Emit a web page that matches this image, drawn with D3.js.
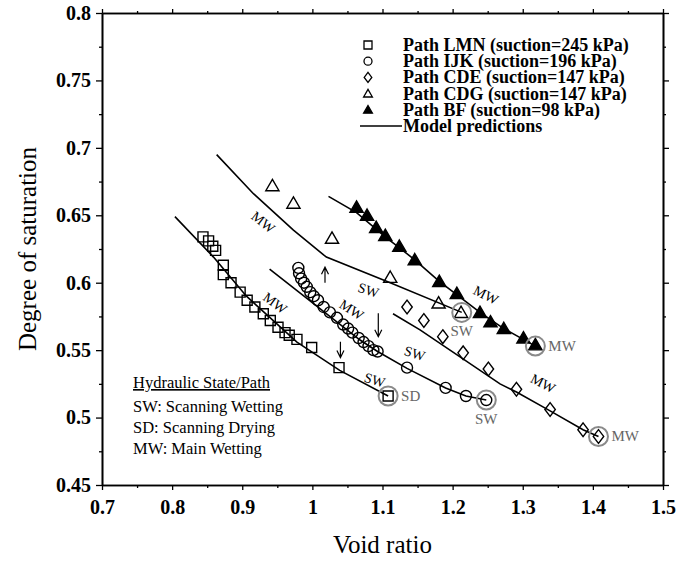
<!DOCTYPE html>
<html>
<head>
<meta charset="utf-8">
<script src="https://cdn.jsdelivr.net/npm/d3@7"></script>
<style>
  body { margin: 0; background: #fff; }
  text { font-family: "Liberation Serif", "Times New Roman", serif; }
</style>
</head>
<body>
<svg id="chart" width="694" height="564"></svg>
<script>
// Data (void ratio, degree of saturation)
var pathLMN = [[0.844,0.634],[0.852,0.631],[0.858,0.627],[0.862,0.624],[0.873,0.613],[0.873,0.606],
  [0.884,0.600],[0.897,0.593],[0.907,0.587],[0.918,0.582],[0.930,0.577],[0.940,0.572],[0.951,0.567],
  [0.961,0.563],[0.967,0.561],[0.978,0.558],[0.999,0.552],[1.038,0.537],[1.108,0.516]];
var pathIJK = [[0.980,0.611],[0.981,0.607],[0.984,0.603],[0.988,0.600],[0.992,0.597],[0.997,0.593],
  [1.002,0.590],[1.008,0.587],[1.016,0.582],[1.025,0.578],[1.035,0.574],[1.044,0.569],[1.051,0.566],
  [1.057,0.563],[1.066,0.559],[1.073,0.556],[1.080,0.553],[1.087,0.550],[1.093,0.549],
  [1.135,0.537],[1.190,0.522],[1.219,0.516],[1.248,0.513]];
var pathCDE = [[1.135,0.582],[1.159,0.572],[1.186,0.560],[1.215,0.548],[1.251,0.536],[1.291,0.521],
  [1.339,0.506],[1.386,0.491],[1.408,0.486]];
var pathCDG = [[0.943,0.672],[0.973,0.659],[1.028,0.633],[1.111,0.604],[1.180,0.585],[1.212,0.578]];
var pathBF = [[1.063,0.656],[1.078,0.650],[1.091,0.641],[1.104,0.635],[1.124,0.627],[1.146,0.617],
  [1.181,0.601],[1.206,0.592],[1.239,0.578],[1.254,0.571],[1.273,0.566],[1.301,0.559],[1.318,0.554]];

// Model prediction curves
var modelLMN = [[0.804,0.649],[0.859,0.619],[0.906,0.590],[0.978,0.556],[1.039,0.535],[1.108,0.516]];
var modelIJK = [[0.939,0.610],[1.068,0.5575],[1.093,0.549],[1.135,0.5365],[1.190,0.522],[1.219,0.516],[1.248,0.513]];
var modelCDG = [[0.8635,0.695],[0.916,0.666],[0.973,0.639],[1.016,0.6206],[1.020,0.619],[1.111,0.600],[1.213,0.578]];
var modelBF = [[1.023,0.664],[1.063,0.652],[1.104,0.634],[1.146,0.617],[1.181,0.601],[1.239,0.578],[1.273,0.566],[1.318,0.553]];
var modelCDE = [[1.115,0.577],[1.1535,0.565],[1.2676,0.525],[1.291,0.519],[1.339,0.505],[1.386,0.491],[1.408,0.486]];

var xTicks = [0.7,0.8,0.9,1.0,1.1,1.2,1.3,1.4,1.5];
var yTicks = [0.45,0.5,0.55,0.6,0.65,0.7,0.75,0.8];

var legendLabels = ["Path LMN (suction=245 kPa)","Path IJK (suction=196 kPa)","Path CDE (suction=147 kPa)",
  "Path CDG (suction=147 kPa)","Path BF (suction=98 kPa)","Model predictions"];
var legendShapes = ["square","circle","diamond","triangle","filled","line"];

// grey rings at the end states
var rings = [[1.108,0.516],[1.248,0.513],[1.213,0.578],[1.318,0.553],[1.408,0.486]];
var ringLabels = [["SD",1.108,0.516,"right"],["SW",1.248,0.513,"below"],["SW",1.213,0.578,"below"],
  ["MW",1.318,0.553,"right"],["MW",1.408,0.486,"right"]];
// labels along curves: text, x, y, angle
var curveLabels = [["MW",0.930,0.645,38],["MW",0.947,0.585,36],["MW",1.056,0.580,33],
  ["SW",1.080,0.5946,17],["MW",1.2476,0.591,27],["SW",1.146,0.5477,17],["SW",1.089,0.528,17],["MW",1.329,0.5254,27]];
// arrows: x, yFrom, yTo
var arrows = [[1.018,0.600,0.6115],[1.094,0.5773,0.560],[1.040,0.5563,0.5445]];

var hydroLines = ["SW: Scanning Wetting","SD: Scanning Drying","MW: Main Wetting"];

var svg = d3.select("#chart");
var margin = {left: 102, right: 663, top: 13, bottom: 485};

var x = d3.scaleLinear().domain([0.7,1.5]).range([margin.left,margin.right]);
var y = d3.scaleLinear().domain([0.45,0.8]).range([margin.bottom,margin.top]);

function fmt(d){ return String(+d.toFixed(2)); }

// minor ticks
var xMinor = d3.range(0.75,1.5,0.1);
var yMinor = d3.range(0.475,0.8,0.05);

var axes = svg.append("g").attr("class","axes");
axes.append("g").attr("transform","translate(0,"+margin.bottom+")")
  .call(d3.axisBottom(x).tickValues(xTicks).tickFormat(fmt).tickSizeInner(5).tickSizeOuter(0).tickPadding(10));
axes.append("g").attr("transform","translate(0,"+margin.bottom+")")
  .call(d3.axisBottom(x).tickValues(xMinor).tickFormat("").tickSizeInner(3).tickSizeOuter(0));
axes.append("g").attr("transform","translate(0,"+margin.top+")")
  .call(d3.axisTop(x).tickValues(xTicks).tickFormat("").tickSizeInner(4).tickSizeOuter(0));
axes.append("g").attr("transform","translate(0,"+margin.top+")")
  .call(d3.axisTop(x).tickValues(xMinor).tickFormat("").tickSizeInner(2).tickSizeOuter(0));
axes.append("g").attr("transform","translate("+margin.left+",0)")
  .call(d3.axisLeft(y).tickValues(yTicks).tickFormat(fmt).tickSizeInner(6).tickSizeOuter(0).tickPadding(5));
axes.append("g").attr("transform","translate("+margin.left+",0)")
  .call(d3.axisLeft(y).tickValues(yMinor).tickFormat("").tickSizeInner(3).tickSizeOuter(0));
axes.append("g").attr("transform","translate("+margin.right+",0)")
  .call(d3.axisRight(y).tickValues(yTicks).tickFormat("").tickSizeInner(6).tickSizeOuter(0));
axes.append("g").attr("transform","translate("+margin.right+",0)")
  .call(d3.axisRight(y).tickValues(yMinor).tickFormat("").tickSizeInner(3).tickSizeOuter(0));

axes.selectAll("path.domain").attr("stroke","#000").attr("stroke-width",1.6);
axes.selectAll(".tick line").attr("stroke","#000").attr("stroke-width",1.3);
axes.selectAll(".tick text")
  .style("font-family","'Liberation Serif', serif")
  .style("font-size","20px").style("font-weight","bold").attr("fill","#000");

// axis titles
svg.append("text").attr("x",(margin.left+margin.right)/2).attr("y",553)
  .attr("text-anchor","middle").style("font-size","25px").text("Void ratio");
svg.append("text").attr("transform","translate(36,"+((margin.top+margin.bottom)/2)+") rotate(-90)")
  .attr("text-anchor","middle").style("font-size","25px").text("Degree of saturation");

// model curves
var line = d3.line().x(function(d){ return x(d[0]); }).y(function(d){ return y(d[1]); });
[modelLMN, modelIJK, modelCDG, modelBF, modelCDE].forEach(function(m){
  svg.append("path").datum(m).attr("d",line)
    .attr("fill","none").attr("stroke","#000").attr("stroke-width",1.6);
});

// marker shapes
function shapePath(kind, s){
  var h = s/2;
  if (kind == "square") return "M"+(-h)+","+(-h)+"h"+s+"v"+s+"h"+(-s)+"Z";
  if (kind == "diamond") return "M0,"+(-h*1.25)+"L"+(h*0.95)+",0L0,"+(h*1.25)+"L"+(-h*0.95)+",0Z";
  if (kind == "triangle" || kind == "filled") return "M0,"+(-h*1.05)+"L"+(h*1.1)+","+(h*0.85)+"L"+(-h*1.1)+","+(h*0.85)+"Z";
  return "";
}
function drawMarkers(data, kind, size){
  var g = svg.append("g");
  if (kind == "circle"){
    g.selectAll("circle").data(data).enter().append("circle")
      .attr("cx",function(d){ return x(d[0]); }).attr("cy",function(d){ return y(d[1]); })
      .attr("r",size/2).attr("fill","none").attr("stroke","#000").attr("stroke-width",1.4);
  } else {
    g.selectAll("path").data(data).enter().append("path")
      .attr("transform",function(d){ return "translate("+x(d[0])+","+y(d[1])+")"; })
      .attr("d",shapePath(kind,size))
      .attr("fill",kind == "filled" ? "#000" : "none")
      .attr("stroke","#000").attr("stroke-width",1.4).attr("stroke-linejoin","miter");
  }
}
drawMarkers(pathLMN,"square",10);
drawMarkers(pathIJK,"circle",11);
drawMarkers(pathCDE,"diamond",11);
drawMarkers(pathCDG,"triangle",12);
drawMarkers(pathBF,"filled",12);

// grey rings and their labels
svg.append("g").selectAll("circle").data(rings).enter().append("circle")
  .attr("cx",function(d){ return x(d[0]); }).attr("cy",function(d){ return y(d[1]); })
  .attr("r",9.5).attr("fill","none").attr("stroke","#8a8a8a").attr("stroke-width",2);
svg.append("g").selectAll("text").data(ringLabels).enter().append("text")
  .attr("x",function(d){ return d[3] == "right" ? x(d[1]) + 13 : x(d[1]); })
  .attr("y",function(d){ return d[3] == "right" ? y(d[2]) + 5 : y(d[2]) + 24; })
  .attr("text-anchor",function(d){ return d[3] == "right" ? "start" : "middle"; })
  .style("font-size","15px").attr("fill","#666").text(function(d){ return d[0]; });

// labels along the curves
svg.append("g").selectAll("text").data(curveLabels).enter().append("text")
  .attr("transform",function(d){ return "translate("+x(d[1])+","+y(d[2])+") rotate("+d[3]+")"; })
  .attr("text-anchor","middle").attr("dy","0.35em")
  .style("font-size","14px").attr("fill","#000").text(function(d){ return d[0]; });

// arrows
arrows.forEach(function(a){
  var ax = x(a[0]), y0 = y(a[1]), y1 = y(a[2]);
  var dir = y1 > y0 ? 1 : -1;
  svg.append("path")
    .attr("d","M"+ax+","+y0+"L"+ax+","+y1+"M"+(ax-3.5)+","+(y1-dir*7)+"L"+ax+","+y1+"L"+(ax+3.5)+","+(y1-dir*7))
    .attr("fill","none").attr("stroke","#000").attr("stroke-width",1.2);
});

// legend
var legend = svg.append("g").attr("transform","translate(368,45)");
legendLabels.forEach(function(lab, i){
  var ly = i*16.2;
  var kind = legendShapes[i];
  if (kind == "line"){
    legend.append("line").attr("x1",-8).attr("x2",34).attr("y1",ly).attr("y2",ly)
      .attr("stroke","#000").attr("stroke-width",1.6);
  } else if (kind == "circle"){
    legend.append("circle").attr("cx",0).attr("cy",ly).attr("r",4)
      .attr("fill","none").attr("stroke","#000").attr("stroke-width",1.3);
  } else {
    legend.append("path").attr("transform","translate(0,"+ly+")").attr("d",shapePath(kind,8))
      .attr("fill",kind == "filled" ? "#000" : "none").attr("stroke","#000").attr("stroke-width",1.3);
  }
  legend.append("text").attr("x",35).attr("y",ly).attr("dy","0.33em")
    .style("font-size","18px").style("font-weight","bold").text(lab);
});

// hydraulic state note
var note = svg.append("g").attr("transform","translate(133,388)");
note.append("text").attr("x",0).attr("y",0).style("font-size","16.5px")
  .style("text-decoration","underline").text("Hydraulic State/Path");
hydroLines.forEach(function(t, i){
  note.append("text").attr("x",0).attr("y",24 + i*21).style("font-size","16.5px").text(t);
});
</script>
</body>
</html>
